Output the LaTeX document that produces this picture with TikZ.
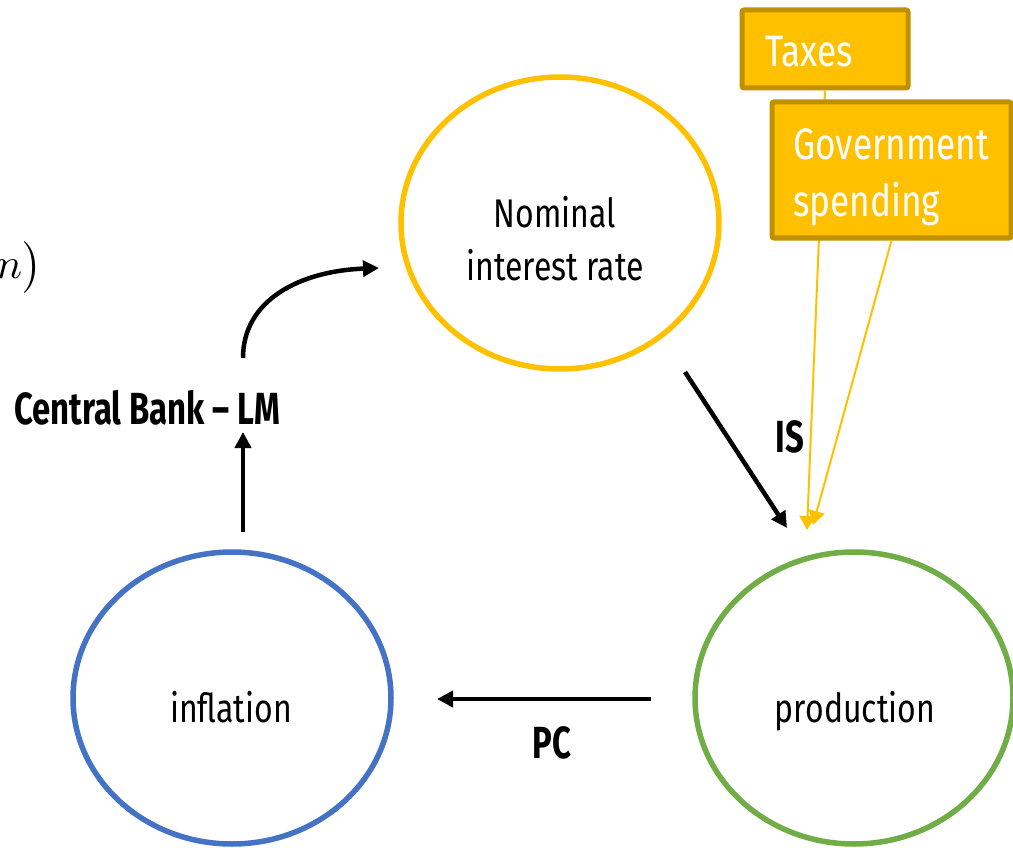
\documentclass[tikz,border=0pt]{standalone}
\usepackage{fontspec}
\newfontfamily\reg[FakeStretch=0.8]{Fira Sans}
\newfontfamily\bld[FakeStretch=0.73]{Fira Sans}
\usetikzlibrary{shapes.geometric,arrows.meta}
\definecolor{gold}{HTML}{FFC000}
\definecolor{boxedge}{HTML}{BF9000}
\definecolor{blueish}{HTML}{4472C4}
\definecolor{greenish}{HTML}{70AD47}
\begin{document}
\begin{tikzpicture}[x=1pt,y=-1pt,
  bubble/.style={ellipse,draw,line width=5.5pt,minimum width=318pt,minimum height=292pt,inner sep=0pt},
  txt/.style={font=\reg\fontsize{40}{52}\selectfont,anchor=base,inner sep=0pt},
  lbl/.style={font=\bld\bfseries\fontsize{45}{50}\selectfont,inner sep=0pt},
  box/.style={draw=boxedge,fill=gold,line width=5pt,rounded corners=2pt,inner sep=0pt},
  boxtxt/.style={font=\reg\fontsize{44}{57}\selectfont,text=white,anchor=base west,inner sep=0pt},
  arr/.style={line width=4.5pt,-{Triangle[length=16pt,width=16pt]}},
  garr/.style={gold,line width=2pt,-{Triangle[length=14pt,width=16pt]}}]
\useasboundingbox (0,0) rectangle (1013,848);

% partial formula at the left edge
\node[anchor=base east,inner sep=0pt] (frag) at (42,278) {\scalebox{4.3}{$n\bigr)$}};

% bubbles
\node[bubble,draw=gold] (nom) at (560,223) {};
\node[txt] (nomA) at (555,228) {Nominal};
\node[txt] (nomB) at (555,280) {interest rate};

\node[bubble,draw=blueish] (infl) at (232,698) {};
\node[txt] (inflt) at (231,722) {inflation};

\node[bubble,draw=greenish] (prod) at (854,698) {};
\node[txt] (prodt) at (855,722) {production};

% policy boxes and their arrows
\coordinate (gtip1) at (807,530);
\coordinate (gtip2) at (813,525);
\node[box,minimum width=166pt,minimum height=78pt] (taxes) at (825,49) {};
\node[boxtxt] (taxest) at (765,67) {Taxes};
\draw[garr] (taxes.south) -- (gtip1);
\node[box,minimum width=239pt,minimum height=136pt] (gov) at (891.5,170) {};
\node[boxtxt] (govA) at (793,160) {Government};
\node[boxtxt] (govB) at (793,217) {spending};
\draw[garr] (gov.south) -- (gtip2);

% IS
\coordinate (isS) at (685,372);
\coordinate (isE) at (787,528);
\draw[arr] (isS) -- (isE);
\node[lbl] (is) at (790,437) {IS};

% PC
\coordinate (pcS) at (651,699);
\coordinate (pcE) at (437,699);
\draw[arr] (pcS) -- (pcE);
\node[lbl] (pc) at (552,743) {PC};

% Central Bank - LM
\coordinate (lmS) at (243,532);
\coordinate (lmE) at (243,432);
\draw[arr] (lmS) -- (lmE);
\node[lbl] (lm) at (147,408) {Central Bank \textendash{} LM};
\coordinate (cS) at (243,358);
\coordinate (cE) at (379,268);
\draw[arr] (cS) .. controls (243,300) and (300,271) .. (cE);
\end{tikzpicture}
\end{document}
